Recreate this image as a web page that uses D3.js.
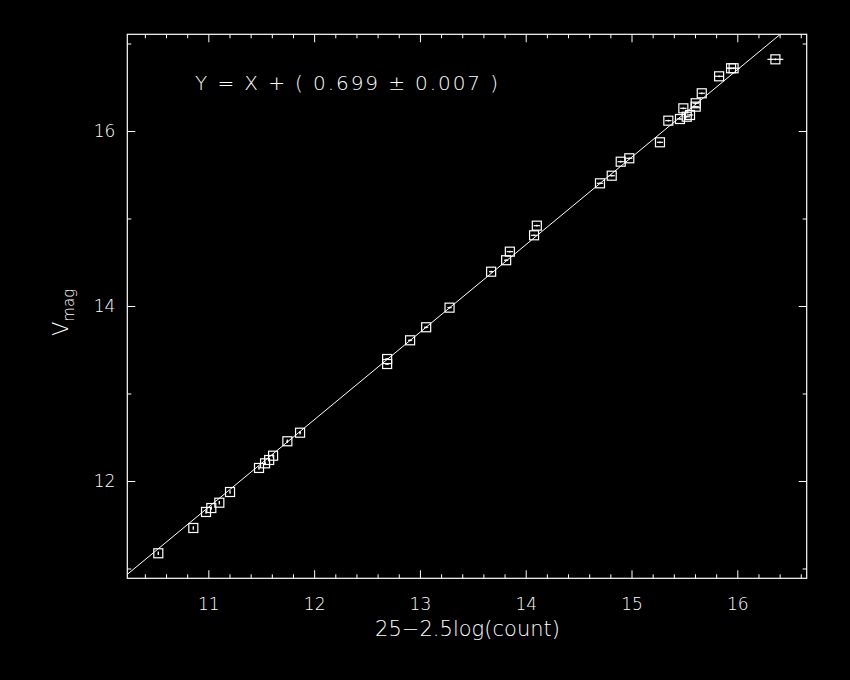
<!DOCTYPE html>
<html><head><meta charset="utf-8">
<script src="https://cdn.jsdelivr.net/npm/d3@7"></script>
<style>
html,body{margin:0;padding:0;background:#000;}
svg{display:block;}
text{font-family:"DejaVu Sans",sans-serif;font-weight:200;fill:#fff;}
</style></head>
<body>
<script>
// ---- data ----
const xVals = [10.527,10.858,10.978,11.028,11.104,11.205,11.479,11.536,11.575,11.612,11.747,11.867,
  12.690,12.690,12.907,13.059,13.280,13.673,13.815,13.850,14.079,14.105,
  14.702,14.813,14.898,14.979,15.269,15.348,15.458,15.522,15.553,15.490,15.607,15.607,15.664,15.828,15.941,15.965,16.360];
const yVals = [11.174,11.463,11.646,11.691,11.752,11.874,12.149,12.202,12.240,12.289,12.454,12.552,
  13.394,13.337,13.608,13.757,13.981,14.392,14.523,14.621,14.808,14.918,
  15.402,15.489,15.649,15.688,15.871,16.118,16.137,16.163,16.183,16.259,16.278,16.317,16.431,16.625,16.717,16.717,16.819];
const xErr = [0.005,0.005,0.005,0.005,0.005,0.005,0.008,0.008,0.008,0.008,0.01,0.01,
  0.02,0.02,0.02,0.02,0.02,0.02,0.02,0.03,0.03,0.03,
  0.03,0.03,0.03,0.03,0.03,0.03,0.03,0.03,0.03,0.03,0.03,0.03,0.03,0.04,0.04,0.06,0.075];
const yErr = [0.02,0.02,0.02,0.02,0.02,0.02,0.02,0.02,0.02,0.02,0.02,0.02,
  0.01,0.01,0.01,0.01,0.01,0.01,0.01,0.01,0.01,0.01,
  0.01,0.01,0.01,0.01,0.01,0.01,0.01,0.01,0.01,0.01,0.01,0.01,0.01,0.01,0.01,0.01,0.01];
const offset = 0.699, offsetErr = 0.007;
const xMajor = [11,12,13,14,15,16];
const yMajor = [12,14,16];
const yMinor = [11,13,15,17];
const xDomain = [10.234, 16.656];
const yDomain = [10.888, 17.105];

// ---- chart ----
const W = 850, H = 680;
const L = 127.3, R = 806.7, T = 34.3, B = 578.3;
const svg = d3.select("body").append("svg").attr("width", W).attr("height", H)
  .style("background", "#000");
const x = d3.scaleLinear().domain(xDomain).range([L, R]);
const y = d3.scaleLinear().domain(yDomain).range([B, T]);

const xMinor = d3.range(Math.ceil(xDomain[0]*5), Math.floor(xDomain[1]*5)+1).map(d => d/5)
  .filter(v => Math.abs(v - Math.round(v)) > 1e-6);

function styleAxis(g){
  g.select(".domain").remove();
  g.selectAll("line").attr("stroke", "#fff").attr("stroke-width", 1);
  g.selectAll("text").style("font-size", "17px").style("font-family", "\"DejaVu Sans\",sans-serif")
    .style("font-weight", 200).attr("fill", "#fff");
}
// bottom
svg.append("g").attr("transform", `translate(0,${B})`)
  .call(d3.axisBottom(x).tickValues(xMajor).tickSize(-8).tickSizeOuter(0).tickPadding(20).tickFormat(d3.format("d")))
  .call(styleAxis);
svg.append("g").attr("transform", `translate(0,${B})`)
  .call(d3.axisBottom(x).tickValues(xMinor).tickSize(-4).tickSizeOuter(0).tickFormat(""))
  .call(styleAxis);
// top
svg.append("g").attr("transform", `translate(0,${T})`)
  .call(d3.axisTop(x).tickValues(xMajor).tickSize(-8).tickSizeOuter(0).tickFormat(""))
  .call(styleAxis);
svg.append("g").attr("transform", `translate(0,${T})`)
  .call(d3.axisTop(x).tickValues(xMinor).tickSize(-4).tickSizeOuter(0).tickFormat(""))
  .call(styleAxis);
// left
svg.append("g").attr("transform", `translate(${L},0)`)
  .call(d3.axisLeft(y).tickValues(yMajor).tickSize(-8).tickSizeOuter(0).tickPadding(12).tickFormat(d3.format("d")))
  .call(styleAxis);
svg.append("g").attr("transform", `translate(${L},0)`)
  .call(d3.axisLeft(y).tickValues(yMinor).tickSize(-4).tickSizeOuter(0).tickFormat(""))
  .call(styleAxis);
// right
svg.append("g").attr("transform", `translate(${R},0)`)
  .call(d3.axisRight(y).tickValues(yMajor).tickSize(-8).tickSizeOuter(0).tickFormat(""))
  .call(styleAxis);
svg.append("g").attr("transform", `translate(${R},0)`)
  .call(d3.axisRight(y).tickValues(yMinor).tickSize(-4).tickSizeOuter(0).tickFormat(""))
  .call(styleAxis);

// frame
svg.append("rect").attr("x", L).attr("y", T).attr("width", R-L).attr("height", B-T)
  .attr("fill", "none").attr("stroke", "#fff").attr("stroke-width", 1.2);

// clip
svg.append("clipPath").attr("id", "clip").append("rect")
  .attr("x", L).attr("y", T).attr("width", R-L).attr("height", B-T);

// fit line Y = X + offset
const lx0 = Math.max(xDomain[0], yDomain[0] - offset);
const lx1 = Math.min(xDomain[1], yDomain[1] - offset);
svg.append("line").attr("clip-path", "url(#clip)")
  .attr("x1", x(lx0)).attr("y1", y(lx0 + offset))
  .attr("x2", x(lx1)).attr("y2", y(lx1 + offset))
  .attr("stroke", "#fff").attr("stroke-width", 1);

// points
const data = xVals.map((v, i) => ({x: v, y: yVals[i], ex: xErr[i], ey: yErr[i]}));
const pts = svg.append("g");
const s = 4.5;
data.forEach(d => {
  const cx = x(d.x), cy = y(d.y);
  pts.append("rect").attr("x", cx - s).attr("y", cy - s).attr("width", 2*s).attr("height", 2*s)
    .attr("fill", "none").attr("stroke", "#fff").attr("stroke-width", 1.2);
  pts.append("line").attr("x1", x(d.x - d.ex)).attr("x2", x(d.x + d.ex)).attr("y1", cy).attr("y2", cy)
    .attr("stroke", "#fff").attr("stroke-width", 1.2);
  pts.append("line").attr("x1", cx).attr("x2", cx).attr("y1", y(d.y - d.ey)).attr("y2", y(d.y + d.ey))
    .attr("stroke", "#fff").attr("stroke-width", 1.2);
});

// equation text
svg.append("text").attr("x", 195).attr("y", 90)
  .attr("textLength", 303).attr("lengthAdjust", "spacing")
  .style("font-size", "20px")
  .text(`Y = X + ( ${offset.toFixed(3)} ± ${offsetErr.toFixed(3)} )`);

// axis titles
svg.append("text").attr("x", 375).attr("y", 636)
  .attr("textLength", 185).attr("lengthAdjust", "spacing")
  .style("font-size", "21px")
  .text("25−2.5log(count)");

const yl = svg.append("text").attr("transform", "translate(68,336) rotate(-90)")
  .style("font-size", "21px");
yl.append("tspan").text("V");
yl.append("tspan").attr("dy", 6).style("font-size", "15px").text("mag");
</script>
</body></html>
